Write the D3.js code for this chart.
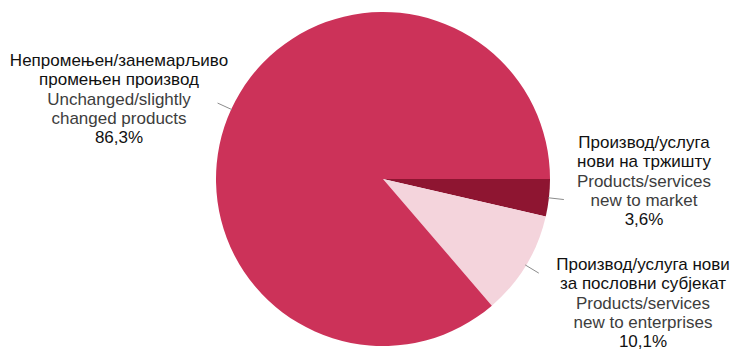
<!DOCTYPE html>
<html>
<head>
<meta charset="utf-8">
<script src="https://cdn.jsdelivr.net/npm/d3@7"></script>
<style>
  html, body { margin: 0; padding: 0; background: #fff; }
  svg { display: block; font-family: "Liberation Sans", Arial, sans-serif; }
</style>
</head>
<body>
<div id="chart"></div>
<script>
// data, in the order drawn clockwise from 3 o'clock
const categories = ['market', 'enterprises', 'unchanged'];
const values = [3.6, 10.1, 86.3];
const labelsSr = [
    ['Производ/услуга', 'нови на тржишту'],
    ['Производ/услуга нови', 'за пословни субјекат'],
    ['Непромењен/занемарљиво', 'промењен производ']
];
const labelsEn = [
    ['Products/services', 'new to market'],
    ['Products/services', 'new to enterprises'],
    ['Unchanged/slightly', 'changed products']
];
const pctLabels = ['3,6%', '10,1%', '86,3%'];

const colors = ['#8e1531', '#f4d4dc', '#cc3259'];

const W = 731, H = 350;
const cx = 383, cy = 179, radius = 167;
// where each label block is centred
const labelPos = [[644, 135], [643, 257], [119, 53]];
const lineH = 19.3;

const svg = d3.select('#chart').append('svg')
    .attr('width', W).attr('height', H);

const g = svg.append('g').attr('transform', `translate(${cx},${cy})`);

const pie = d3.pie()
    .sort(null)
    .value(d => d)
    .startAngle(Math.PI / 2)
    .endAngle(Math.PI / 2 + 2 * Math.PI);

const arcs = pie(values);
const arc = d3.arc().innerRadius(0).outerRadius(radius);

g.selectAll('path.slice')
    .data(arcs)
    .join('path')
    .attr('class', 'slice')
    .attr('d', arc)
    .attr('fill', (d, i) => colors[i]);

// leader lines
arcs.forEach((d, i) => {
    const a = (d.startAngle + d.endAngle) / 2;
    const r0 = radius * 0.995, r1 = radius * 1.09;
    g.append('line')
        .attr('x1', r0 * Math.sin(a)).attr('y1', -r0 * Math.cos(a))
        .attr('x2', r1 * Math.sin(a)).attr('y2', -r1 * Math.cos(a))
        .attr('stroke', '#8c8c8c')
        .attr('stroke-width', 1);
});

// labels
categories.forEach((c, i) => {
    const [lx, ly] = labelPos[i];
    const t = svg.append('text')
        .attr('x', lx).attr('y', ly)
        .attr('text-anchor', 'middle')
        .style('font-size', '17px');
    const lines = [
        ...labelsSr[i].map(s => ({ s, fill: '#111' })),
        ...labelsEn[i].map(s => ({ s, fill: '#3d3d3d' })),
        { s: pctLabels[i], fill: '#111' }
    ];
    lines.forEach((l, j) => {
        t.append('tspan')
            .attr('x', lx)
            .attr('y', ly + 13 + j * lineH)
            .attr('fill', l.fill)
            .text(l.s);
    });
});
</script>
</body>
</html>
